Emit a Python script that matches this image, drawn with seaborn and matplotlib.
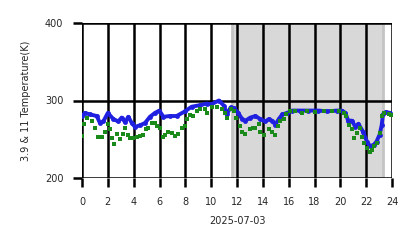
import matplotlib
matplotlib.use("Agg")
import matplotlib.pyplot as plt
import seaborn as sns
import pandas as pd

blue_hours = [0.0, 0.23, 0.62, 1.14, 1.39, 1.65, 2.0, 2.43, 2.81, 3.07, 3.33, 3.59, 3.85, 4.1, 4.49,
              4.88, 5.26, 5.65, 5.99, 6.3, 6.81, 7.33, 7.97, 8.49, 9.14, 9.65, 10.0, 10.6, 11.0, 11.2,
              11.5, 11.75, 12.1, 12.4, 12.65, 13.04, 13.43, 13.8, 14.2, 14.46, 14.7, 14.97, 15.23,
              15.5, 15.88, 16.26, 16.9, 17.5, 18.3, 19.0, 19.74, 20.1, 20.4, 20.6, 20.9, 21.16, 21.4,
              21.75, 22.06, 22.3, 22.6, 22.8, 23.04, 23.2, 23.3, 23.5, 23.87]
blue_temp = [280, 284, 282, 280, 271, 273, 284, 276, 273, 278, 272, 279, 271, 266, 268,
             271, 279, 284, 287, 279, 280, 280, 286, 292, 294, 296, 295, 300, 293, 282,
             291, 290, 284, 276, 274, 278, 280, 276, 273, 276, 274, 269, 276,
             282, 284, 287, 287, 287, 287, 286, 287, 287, 284, 274, 274, 266, 270,
             260, 247, 241, 243, 247, 256, 268, 282, 285, 284]

green_hours = [0.0, 0.15, 0.41, 0.75, 1.0, 1.26, 1.52, 1.78, 2.04, 2.17, 2.35, 2.5, 2.74, 2.94, 3.2,
               3.33, 3.54, 3.72, 3.97, 4.23, 4.49, 4.75, 4.95, 5.13, 5.39, 5.65, 5.83, 6.04, 6.25,
               6.45, 6.68, 6.94, 7.2, 7.46, 7.72, 7.97, 8.1, 8.36, 8.62, 8.88, 9.14, 9.52, 9.7,
               10.08, 10.46, 10.85, 11.1, 11.19, 11.5, 11.75, 11.96, 12.2, 12.4, 12.65, 12.99,
               13.25, 13.43, 13.69, 13.81, 14.12, 14.46, 14.72, 14.97, 15.15, 15.36, 15.62, 15.82,
               16.13, 16.52, 17.04, 17.42, 18.07, 18.71, 19.36, 19.87, 20.26, 20.46, 20.64, 20.9,
               21.08, 21.29, 21.55, 21.68, 21.86, 22.06, 22.27, 22.45, 22.63, 22.84, 23.1, 23.22,
               23.4, 23.74, 23.92]
green_temp = [254, 270, 278, 273, 264, 253, 253, 260, 270, 263, 251, 244, 257, 250, 257,
              264, 256, 251, 252, 253, 254, 255, 263, 265, 271, 271, 267, 265, 253,
              256, 260, 258, 254, 257, 265, 267, 276, 281, 280, 287, 289, 289, 284,
              291, 291, 289, 284, 278, 289, 287, 278, 267, 260, 257, 263,
              265, 264, 270, 260, 256, 263, 260, 256, 267, 273, 276, 282,
              287, 287, 284, 287, 285, 287, 287, 287, 284, 280, 269, 263,
              252, 258, 265, 253, 245, 239, 233, 236, 241, 245, 258, 280,
              284, 282, 281]

x_ticks = [0, 2, 4, 6, 8, 10, 12, 14, 16, 18, 20, 22, 24]
y_ticks = [200, 300, 400]
night_start, night_end = 11.6, 23.3

blue_df = pd.DataFrame({"hour": blue_hours, "temp": blue_temp})
green_df = pd.DataFrame({"hour": green_hours, "temp": green_temp})

sns.set_style("white")
plt.rcParams['font.family'] = ['DejaVu Sans']

fig = plt.figure(figsize=(4.18, 2.48), dpi=100)
ax = fig.add_axes([82/418, 1 - 178/248, 310/418, 155/248])

ax.axvspan(night_start, night_end, facecolor="#d8d8d8", edgecolor="#c4c4c4", linewidth=2, zorder=1)

sns.lineplot(data=blue_df, x="hour", y="temp", ax=ax, color="#2020e0", linewidth=2.8,
             marker="o", markersize=3.5, markeredgewidth=0, zorder=3)
sns.scatterplot(data=green_df, x="hour", y="temp", ax=ax, color="#1a8a1a", marker="s",
                s=12, linewidth=0, zorder=4)

ax.set_xlim(0, 24)
ax.set_ylim(200, 400)
ax.set_xticks(x_ticks)
ax.set_yticks(y_ticks)
ax.set_axisbelow("line")
ax.grid(True, color="black", linewidth=1.8, zorder=1.5)
for s in ax.spines.values():
    s.set_visible(False)
ax.tick_params(axis="both", direction="out", length=6.5, width=1.8, color="black",
               labelsize=7, pad=7, bottom=True, left=True)
ax.set_xlabel("2025-07-03", fontsize=7, labelpad=7)
ax.set_ylabel("3.9 & 11 Temperature(K)", fontsize=7, labelpad=10)

fig.savefig("out.png", dpi=100)
